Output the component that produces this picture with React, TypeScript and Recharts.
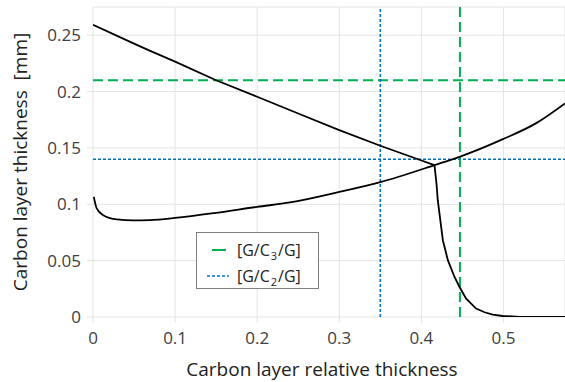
import React from 'react';
import { LineChart, Line, XAxis, YAxis, CartesianGrid, ReferenceLine, Legend } from 'recharts';

// Curve A: decreasing branch with a sharp drop
const curveAX = [0, 0.05, 0.069, 0.1, 0.15, 0.2, 0.25, 0.3, 0.35, 0.39, 0.416, 0.4185, 0.42, 0.4221, 0.4262, 0.4323, 0.4404, 0.4465, 0.4546, 0.4667, 0.477, 0.487, 0.499, 0.52, 0.575];
const curveAY = [0.2593, 0.2425, 0.2363, 0.2265, 0.2100, 0.1954, 0.1805, 0.1658, 0.1519, 0.1415, 0.1347, 0.118, 0.1036, 0.0918, 0.0681, 0.0504, 0.0355, 0.0266, 0.0163, 0.0075, 0.0042, 0.0021, 0.0009, 0.0002, 0];

// Curve B: minimum near 0.05 then rising
const curveBX = [0.001, 0.0045, 0.0125, 0.029, 0.049, 0.069, 0.1, 0.15, 0.2, 0.24, 0.3, 0.35, 0.416, 0.4465, 0.5, 0.54, 0.575];
const curveBY = [0.1066, 0.0963, 0.0903, 0.0866, 0.0857, 0.086, 0.0879, 0.0924, 0.0977, 0.1016, 0.1109, 0.1196, 0.1347, 0.1421, 0.158, 0.172, 0.1895];

const xTicks = [0, 0.1, 0.2, 0.3, 0.4, 0.5];
const yTicks = [0, 0.05, 0.1, 0.15, 0.2, 0.25];

const c3Level = 0.21;
const c3Thickness = 0.447;
const c2Level = 0.14;
const c2Thickness = 0.35;

const GREEN = '#00b050';
const BLUE = '#0070c0';
const FONT = '"Open Sans", sans-serif';

const dataA = curveAX.map((x, i) => ({ x, y: curveAY[i] }));
const dataB = curveBX.map((x, i) => ({ x, y: curveBY[i] }));

const subStyle: React.CSSProperties = { fontSize: 11, position: 'relative', top: 4, lineHeight: 0, margin: '0 1px' };

const LegendBox = () => (
  <div
    style={{
      width: 123,
      height: 57,
      boxSizing: 'border-box',
      border: '1px solid #7f7f7f',
      background: '#fff',
      fontFamily: FONT,
      fontSize: 16,
      color: '#222',
      position: 'relative',
      lineHeight: '20px',
    }}
  >
    <div style={{ position: 'absolute', left: 10, top: 5, height: 24, display: 'flex', alignItems: 'center' }}>
      <svg width={26} height={6} style={{ marginRight: 4 }}>
        <line x1={5} y1={3} x2={19} y2={3} stroke={GREEN} strokeWidth={2} />
      </svg>
      <span style={{ whiteSpace: 'nowrap' }}>[G/C<span style={subStyle}>3</span>/G]</span>
    </div>
    <div style={{ position: 'absolute', left: 10, top: 31, height: 24, display: 'flex', alignItems: 'center' }}>
      <svg width={26} height={6} style={{ marginRight: 4 }}>
        <line x1={0} y1={3} x2={22} y2={3} stroke={BLUE} strokeWidth={1.5} strokeDasharray="3 2" />
      </svg>
      <span style={{ whiteSpace: 'nowrap' }}>[G/C<span style={subStyle}>2</span>/G]</span>
    </div>
  </div>
);

export default function App() {
  return (
    <div style={{ position: 'absolute', left: 0, top: 0, background: '#fff' }}>
      <LineChart width={565} height={382} margin={{ top: 7, right: 0, bottom: 0, left: 0 }}>
        <CartesianGrid stroke="#e3e3e3" strokeWidth={1} />
        <XAxis
          type="number"
          dataKey="x"
          domain={[0, 0.575]}
          ticks={xTicks}
          allowDataOverflow
          height={65}
          axisLine={false}
          tickLine={{ stroke: '#e3e3e3' }}
          tickSize={6}
          tickMargin={9}
          tick={{ fill: '#404040', fontSize: 17, fontFamily: FONT }}
          tickFormatter={(v: number) => String(v)}
          label={{
            content: (props: any) => {
              const vb = props.viewBox || { x: 93, y: 317, width: 472, height: 65 };
              return (
                <text x={322} y={vb.y + 52} textAnchor="middle" dominantBaseline="central" fill="#222" fontSize={19} fontFamily={FONT}>
                  Carbon layer relative thickness
                </text>
              );
            },
          }}
        />
        <YAxis
          type="number"
          dataKey="y"
          domain={[0, 0.275]}
          ticks={yTicks}
          allowDataOverflow
          width={93}
          axisLine={false}
          tickLine={{ stroke: '#e3e3e3' }}
          tickSize={6}
          tickMargin={6}
          tick={{ fill: '#404040', fontSize: 17, fontFamily: FONT }}
          tickFormatter={(v: number) => String(v)}
          label={{
            content: (props: any) => {
              const vb = props.viewBox || { x: 0, y: 7, width: 93, height: 310 };
              const cy = vb.y + vb.height / 2;
              return (
                <text x={20} y={cy} transform={`rotate(-90, 20, ${cy})`} textAnchor="middle" dominantBaseline="central" fill="#222" fontSize={19} fontFamily={FONT} style={{ whiteSpace: 'pre' }}>
                  Carbon layer thickness  [mm]
                </text>
              );
            },
          }}
        />
        <ReferenceLine y={c3Level} stroke={GREEN} strokeWidth={2} strokeDasharray="10 5" />
        <ReferenceLine y={c2Level} stroke={BLUE} strokeWidth={1.6} strokeDasharray="3 2" />
        <ReferenceLine x={c2Thickness} stroke={BLUE} strokeWidth={1.6} strokeDasharray="3 2" />
        <ReferenceLine x={c3Thickness} stroke={GREEN} strokeWidth={2} strokeDasharray="10 5" />
        <Line data={dataA} dataKey="y" type="linear" stroke="#000" strokeWidth={1.8} dot={false} isAnimationActive={false} legendType="none" />
        <Line data={dataB} dataKey="y" type="monotone" stroke="#000" strokeWidth={1.8} dot={false} isAnimationActive={false} legendType="none" />
        <Legend
          layout="horizontal"
          verticalAlign="middle"
          align="center"
          content={() => <LegendBox />}
          wrapperStyle={{ position: 'absolute', left: 196, top: 232, width: 123, height: 57, bottom: 'auto' }}
        />
      </LineChart>
    </div>
  );
}
